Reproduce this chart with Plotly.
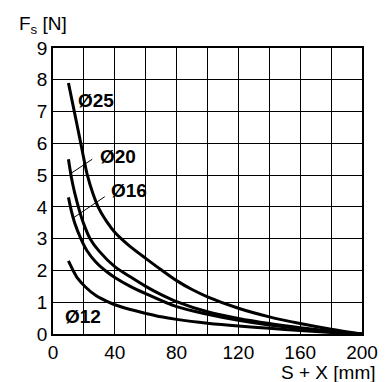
import plotly.graph_objects as go

# curve data: S + X [mm] -> Fs [N]
x_d25 = [10, 14, 18, 22, 26, 30, 35, 40, 45, 50, 60, 70, 80, 90, 100, 120, 140, 160, 180, 200]
y_d25 = [7.9, 6.95, 6.0, 5.05, 4.4, 3.92, 3.52, 3.2, 2.96, 2.75, 2.38, 2.02, 1.68, 1.4, 1.17, 0.81, 0.54, 0.33, 0.15, 0]

x_d20 = [10, 12, 14, 17, 20, 24, 30, 40, 50, 60, 70, 80, 100, 120, 140, 160, 180, 200]
y_d20 = [5.5, 4.9, 4.45, 3.9, 3.45, 3.0, 2.6, 2.12, 1.8, 1.5, 1.24, 1.02, 0.70, 0.49, 0.33, 0.2, 0.09, 0]

x_d16 = [10, 12, 14, 18, 22, 28, 35, 40, 50, 60, 80, 100, 120, 140, 160, 180, 200]
y_d16 = [4.3, 3.85, 3.5, 3.0, 2.62, 2.25, 1.95, 1.78, 1.5, 1.27, 0.86, 0.62, 0.43, 0.28, 0.17, 0.07, 0]

x_d12 = [10, 13, 16, 21, 28, 36, 40, 50, 60, 70, 80, 100, 120, 140, 160, 180, 200]
y_d12 = [2.3, 2.0, 1.75, 1.48, 1.2, 1.0, 0.92, 0.77, 0.65, 0.54, 0.46, 0.34, 0.25, 0.18, 0.11, 0.05, 0]

x_ticks = [0, 40, 80, 120, 160, 200]
x_grid = list(range(0, 201, 20))
y_grid = list(range(0, 10))

# curve labels and their leader lines
labels = ["Ø25", "Ø20", "Ø16", "Ø12"]
label_x = [28, 41.8, 49.2, 19.6]
label_y = [7.36, 5.58, 4.51, 0.55]
leaders = [((11.5, 5.05), (25.4, 5.5)), ((13.6, 3.67), (33.5, 4.32))]

FONT = "Arial, Liberation Sans, sans-serif"

fig = go.Figure()
for xs, ys in [(x_d25, y_d25), (x_d20, y_d20), (x_d16, y_d16), (x_d12, y_d12)]:
    fig.add_trace(go.Scatter(
        x=xs, y=ys, mode="lines",
        line=dict(color="black", width=3, shape="spline", smoothing=0.8),
        showlegend=False, hoverinfo="skip"
    ))

for (p0, p1) in leaders:
    fig.add_shape(type="line", x0=p0[0], y0=p0[1], x1=p1[0], y1=p1[1],
                  line=dict(color="black", width=1))

for t, lx, ly in zip(labels, label_x, label_y):
    fig.add_annotation(x=lx, y=ly, text=f"<b>{t}</b>", showarrow=False,
                       font=dict(family=FONT, size=19, color="black"))

fig.add_annotation(xref="paper", yref="paper", x=-0.115, y=1.128,
                   xanchor="left", yanchor="top", showarrow=False,
                   text="F<sub>s</sub> [N]", font=dict(family=FONT, size=19, color="black"))
fig.add_annotation(xref="paper", yref="paper", x=1.052, y=-0.09,
                   xanchor="right", yanchor="top", showarrow=False,
                   text="S + X [mm]", font=dict(family=FONT, size=19, color="black"))

fig.update_xaxes(
    range=[0, 200], tickvals=x_ticks,
    showgrid=True, gridcolor="black", gridwidth=1.3,
    minor=dict(tickvals=x_grid, showgrid=True, gridcolor="black", gridwidth=1.3, ticks=""),
    showline=True, linecolor="black", linewidth=1.5, mirror=True,
    zeroline=False, ticks="", tickfont=dict(family=FONT, size=19, color="black")
)
fig.update_yaxes(
    range=[0, 9], tickvals=y_grid,
    showgrid=True, gridcolor="black", gridwidth=1.3,
    showline=True, linecolor="black", linewidth=1.5, mirror=True,
    zeroline=False, ticks="", tickfont=dict(family=FONT, size=19, color="black")
)

# page body has an 8px margin, so the figure is 8px smaller and shifted
fig.update_layout(
    width=382, height=374,
    margin=dict(l=45, r=17, t=40, b=48),
    plot_bgcolor="white", paper_bgcolor="white"
)

fig.write_html("out.html")
